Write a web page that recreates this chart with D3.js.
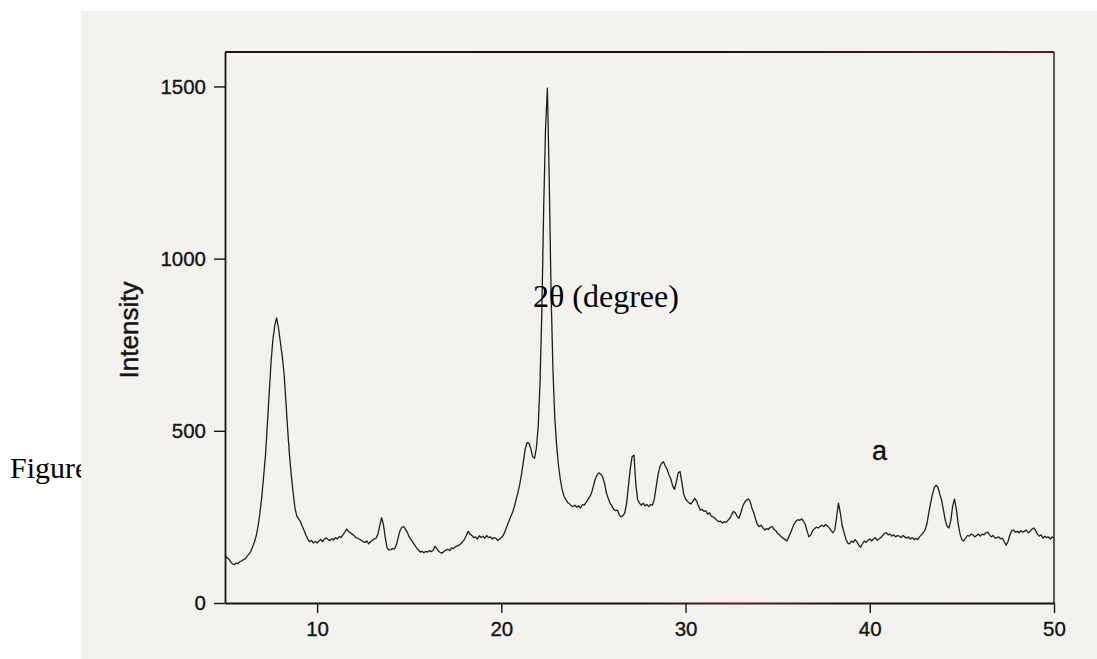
<!DOCTYPE html>
<html>
<head>
<meta charset="utf-8">
<script src="https://cdn.jsdelivr.net/npm/d3@7"></script>
<style>
  html, body { margin: 0; padding: 0; background: #ffffff; }
  svg { display: block; }
</style>
</head>
<body>
<svg id="chart" width="1097" height="659"></svg>
<script>
// XRD scan: 2θ from 5° to 50° in 0.1° steps
const twoTheta = [
  5.0,5.1,5.2,5.3,5.4,5.5,5.6,5.7,5.8,5.9,
  6.0,6.1,6.2,6.3,6.4,6.5,6.6,6.7,6.8,6.9,
  7.0,7.1,7.2,7.3,7.4,7.5,7.6,7.7,7.8,7.9,
  8.0,8.1,8.2,8.3,8.4,8.5,8.6,8.7,8.8,8.9,
  9.0,9.1,9.2,9.3,9.4,9.5,9.6,9.7,9.8,9.9,
  10.0,10.1,10.2,10.3,10.4,10.5,10.6,10.7,10.8,10.9,
  11.0,11.1,11.2,11.3,11.4,11.5,11.6,11.7,11.8,11.9,
  12.0,12.1,12.2,12.3,12.4,12.5,12.6,12.7,12.8,12.9,
  13.0,13.1,13.2,13.3,13.4,13.5,13.6,13.7,13.8,13.9,
  14.0,14.1,14.2,14.3,14.4,14.5,14.6,14.7,14.8,14.9,
  15.0,15.1,15.2,15.3,15.4,15.5,15.6,15.7,15.8,15.9,
  16.0,16.1,16.2,16.3,16.4,16.5,16.6,16.7,16.8,16.9,
  17.0,17.1,17.2,17.3,17.4,17.5,17.6,17.7,17.8,17.9,
  18.0,18.1,18.2,18.3,18.4,18.5,18.6,18.7,18.8,18.9,
  19.0,19.1,19.2,19.3,19.4,19.5,19.6,19.7,19.8,19.9,
  20.0,20.1,20.2,20.3,20.4,20.5,20.6,20.7,20.8,20.9,
  21.0,21.1,21.2,21.3,21.4,21.5,21.6,21.7,21.8,21.9,
  22.0,22.1,22.2,22.3,22.4,22.5,22.6,22.7,22.8,22.9,
  23.0,23.1,23.2,23.3,23.4,23.5,23.6,23.7,23.8,23.9,
  24.0,24.1,24.2,24.3,24.4,24.5,24.6,24.7,24.8,24.9,
  25.0,25.1,25.2,25.3,25.4,25.5,25.6,25.7,25.8,25.9,
  26.0,26.1,26.2,26.3,26.4,26.5,26.6,26.7,26.8,26.9,
  27.0,27.1,27.2,27.3,27.4,27.5,27.6,27.7,27.8,27.9,
  28.0,28.1,28.2,28.3,28.4,28.5,28.6,28.7,28.8,28.9,
  29.0,29.1,29.2,29.3,29.4,29.5,29.6,29.7,29.8,29.9,
  30.0,30.1,30.2,30.3,30.4,30.5,30.6,30.7,30.8,30.9,
  31.0,31.1,31.2,31.3,31.4,31.5,31.6,31.7,31.8,31.9,
  32.0,32.1,32.2,32.3,32.4,32.5,32.6,32.7,32.8,32.9,
  33.0,33.1,33.2,33.3,33.4,33.5,33.6,33.7,33.8,33.9,
  34.0,34.1,34.2,34.3,34.4,34.5,34.6,34.7,34.8,34.9,
  35.0,35.1,35.2,35.3,35.4,35.5,35.6,35.7,35.8,35.9,
  36.0,36.1,36.2,36.3,36.4,36.5,36.6,36.7,36.8,36.9,
  37.0,37.1,37.2,37.3,37.4,37.5,37.6,37.7,37.8,37.9,
  38.0,38.1,38.2,38.3,38.4,38.5,38.6,38.7,38.8,38.9,
  39.0,39.1,39.2,39.3,39.4,39.5,39.6,39.7,39.8,39.9,
  40.0,40.1,40.2,40.3,40.4,40.5,40.6,40.7,40.8,40.9,
  41.0,41.1,41.2,41.3,41.4,41.5,41.6,41.7,41.8,41.9,
  42.0,42.1,42.2,42.3,42.4,42.5,42.6,42.7,42.8,42.9,
  43.0,43.1,43.2,43.3,43.4,43.5,43.6,43.7,43.8,43.9,
  44.0,44.1,44.2,44.3,44.4,44.5,44.6,44.7,44.8,44.9,
  45.0,45.1,45.2,45.3,45.4,45.5,45.6,45.7,45.8,45.9,
  46.0,46.1,46.2,46.3,46.4,46.5,46.6,46.7,46.8,46.9,
  47.0,47.1,47.2,47.3,47.4,47.5,47.6,47.7,47.8,47.9,
  48.0,48.1,48.2,48.3,48.4,48.5,48.6,48.7,48.8,48.9,
  49.0,49.1,49.2,49.3,49.4,49.5,49.6,49.7,49.8,49.9,
  50.0
];

const intensity = [
  140,132,128,120,114,111,116,114,120,122,
  126,128,136,142,150,163,178,196,225,262,
  310,370,430,520,610,700,765,805,828,800,
  760,720,670,590,505,430,370,320,275,252,
  244,236,222,210,196,184,178,182,174,179,
  174,180,185,178,186,189,184,181,187,183,
  190,186,193,190,198,205,215,208,204,200,
  196,190,188,185,182,178,176,180,172,178,
  182,186,188,200,225,248,228,190,160,154,
  155,158,157,168,190,210,220,222,214,205,
  192,184,176,168,160,154,148,150,146,150,
  148,152,149,153,165,158,150,146,145,150,
  154,156,152,160,158,163,166,168,172,178,
  185,196,208,200,196,190,192,186,195,190,
  194,188,196,190,192,186,190,188,182,185,
  190,196,208,222,236,250,262,278,300,320,
  345,375,412,448,466,464,448,425,420,450,
  510,640,850,1150,1380,1495,1230,900,680,540,
  460,400,360,330,310,300,292,288,282,280,
  284,278,282,276,286,284,292,300,308,320,
  340,360,372,378,374,366,348,320,304,290,
  282,272,268,270,256,250,254,262,290,340,
  390,425,430,345,300,290,284,290,282,286,
  280,286,284,300,336,370,395,406,410,398,
  388,372,360,340,330,352,378,382,350,316,
  302,296,290,288,296,304,296,282,270,272,
  266,268,258,262,252,250,246,240,236,238,
  232,236,234,240,246,256,266,262,252,246,
  262,280,292,298,302,296,276,262,244,228,
  222,226,218,212,216,214,220,222,214,210,
  202,198,192,188,184,180,192,204,218,230,
  238,242,240,244,238,228,208,192,198,210,
  216,220,218,222,226,222,228,224,218,210,
  204,212,250,290,262,225,205,186,174,172,
  180,176,184,178,168,162,172,180,176,182,
  186,180,186,190,182,186,190,196,202,204,
  198,200,194,198,192,196,194,190,196,192,
  188,192,186,190,184,188,184,192,198,204,
  212,230,260,290,315,335,342,336,316,298,
  270,240,222,218,240,282,302,272,230,200,
  184,180,188,196,194,200,198,192,196,200,
  194,200,198,204,206,198,192,196,188,190,
  192,186,188,178,168,178,196,210,212,206,
  208,204,210,206,208,212,204,208,214,218,
  210,200,194,198,188,194,190,192,186,192,
  188
];

const xTicks = [10, 20, 30, 40, 50];
const yTicks = [0, 500, 1000, 1500];
const xDomain = [5, 50];
const yDomain = [0, 1600];

const svg = d3.select("#chart");
const W = 1097, H = 659;

const serif = "'Liberation Serif', 'Times New Roman', serif";
const sans = "'Liberation Sans', Arial, sans-serif";
const ink = "#141414";

const plot = { left: 225, right: 1054, top: 52, bottom: 603 };

// faint reddish ink along parts of the frame lines
const defs = svg.append("defs");
const topGrad = defs.append("linearGradient")
  .attr("id", "topInk").attr("gradientUnits", "userSpaceOnUse")
  .attr("x1", plot.left).attr("x2", plot.right).attr("y1", 0).attr("y2", 0);
topGrad.append("stop").attr("offset", "0%").attr("stop-color", "#1e1616");
topGrad.append("stop").attr("offset", "60%").attr("stop-color", "#1e1418");
topGrad.append("stop").attr("offset", "100%").attr("stop-color", "#5a1830");
const botGrad = defs.append("linearGradient")
  .attr("id", "bottomInk").attr("gradientUnits", "userSpaceOnUse")
  .attr("x1", plot.left).attr("x2", plot.right).attr("y1", 0).attr("y2", 0);
botGrad.append("stop").attr("offset", "0%").attr("stop-color", ink);
botGrad.append("stop").attr("offset", "50%").attr("stop-color", "#1a1418");
botGrad.append("stop").attr("offset", "62%").attr("stop-color", "#5a1a2a");
botGrad.append("stop").attr("offset", "74%").attr("stop-color", "#1a1418");
botGrad.append("stop").attr("offset", "100%").attr("stop-color", ink);

// page text partly hidden beneath the scanned sheet
svg.append("text")
  .attr("x", 10).attr("y", 478)
  .attr("font-family", serif)
  .attr("font-size", 30)
  .attr("fill", "#000")
  .text("Figure");

// scanned sheet
svg.append("rect")
  .attr("x", 81).attr("y", 11)
  .attr("width", W - 81).attr("height", H - 11)
  .attr("fill", "#f4f2ee");

const x = d3.scaleLinear().domain(xDomain).range([plot.left, plot.right]);
const y = d3.scaleLinear().domain(yDomain).range([plot.bottom, plot.top]);

// top and right frame lines
svg.append("line")
  .attr("x1", plot.left).attr("x2", plot.right)
  .attr("y1", plot.top).attr("y2", plot.top)
  .attr("stroke", "url(#topInk)").attr("stroke-width", 1.8);
svg.append("line")
  .attr("x1", plot.right).attr("x2", plot.right)
  .attr("y1", plot.top).attr("y2", plot.bottom)
  .attr("stroke", "#1a1a1a").attr("stroke-width", 1.4);

// diffraction trace
const pts = twoTheta.map((t, i) => [t, intensity[i]]);
svg.append("path")
  .datum(pts)
  .attr("fill", "none")
  .attr("stroke", "#1e1e1e")
  .attr("stroke-width", 1.3)
  .attr("stroke-linejoin", "round")
  .attr("d", d3.line().x(d => x(d[0])).y(d => y(d[1])));

// axes
const gx = svg.append("g")
  .attr("transform", `translate(0,${plot.bottom})`)
  .call(d3.axisBottom(x).tickValues(xTicks).tickFormat(d3.format("d"))
    .tickSize(10).tickSizeOuter(0).tickPadding(8));
const gy = svg.append("g")
  .attr("transform", `translate(${plot.left},0)`)
  .call(d3.axisLeft(y).tickValues(yTicks).tickFormat(d3.format("d"))
    .tickSize(11).tickSizeOuter(0).tickPadding(8));

[gx, gy].forEach(g => {
  g.select(".domain").attr("stroke", ink).attr("stroke-width", 1.8);
  g.selectAll(".tick line").attr("stroke", ink).attr("stroke-width", 1.4);
  g.selectAll(".tick text")
    .attr("font-family", sans)
    .attr("font-size", 20.5)
    .attr("fill", ink)
    .attr("stroke", ink)
    .attr("stroke-width", 0.35);
});
gx.select(".domain").attr("stroke", "url(#bottomInk)");

// y-axis title
svg.append("text")
  .attr("transform", `translate(138,330) rotate(-90)`)
  .attr("text-anchor", "middle")
  .attr("font-family", sans)
  .attr("font-size", 26)
  .attr("fill", ink)
  .attr("stroke", ink)
  .attr("stroke-width", 0.45)
  .text("Intensity");

// sample label
svg.append("text")
  .attr("x", 872).attr("y", 460)
  .attr("font-family", sans)
  .attr("font-size", 27)
  .attr("fill", ink)
  .attr("stroke", ink)
  .attr("stroke-width", 0.35)
  .text("a");

// x-axis title
svg.append("text")
  .attr("x", 533).attr("y", 307)
  .attr("font-family", serif)
  .attr("font-size", 32)
  .attr("fill", "#000")
  .text("2θ (degree)");
</script>
</body>
</html>
